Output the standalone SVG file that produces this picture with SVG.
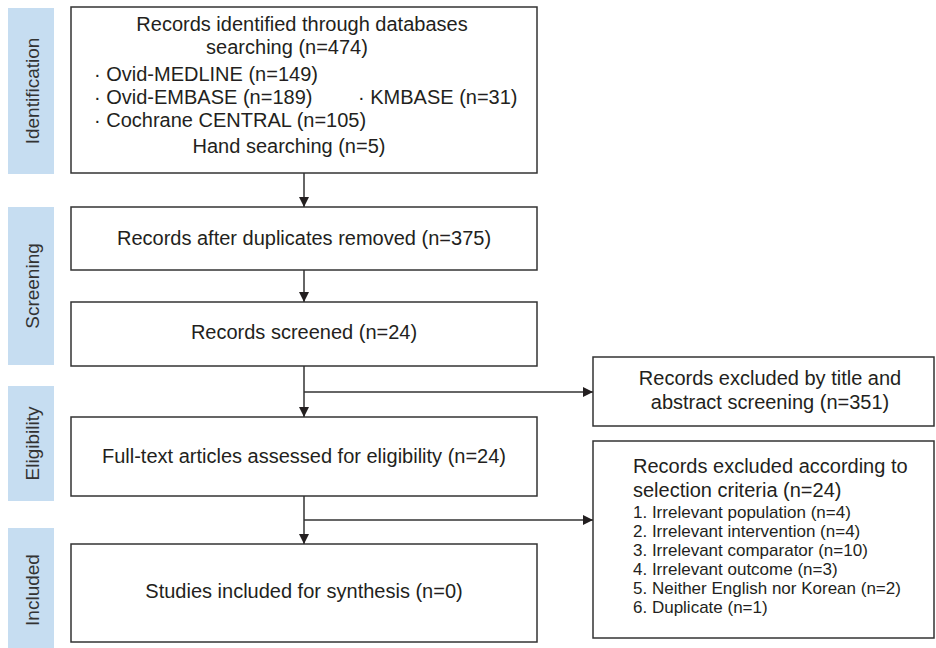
<svg xmlns="http://www.w3.org/2000/svg" width="936" height="648" viewBox="0 0 936 648">
<defs>
<style>
.bar{fill:#c6ddf1;stroke:none}
.box{fill:#fff;stroke:#333;stroke-width:1.5}
.lbl{font-family:"Liberation Sans",Arial,sans-serif;font-size:19px;fill:#333;text-anchor:middle}
.t{font-family:"Liberation Sans",Arial,sans-serif;font-size:20px;fill:#231f20}
.c{text-anchor:middle}
.s{font-size:17px}
.conn{fill:none;stroke:#333;stroke-width:1.5}
</style>
<marker id="ah" viewBox="0 0 10 10" refX="10" refY="5" markerWidth="10" markerHeight="10" markerUnits="userSpaceOnUse" orient="auto">
<path d="M0,0 L10,5 L0,10 z" fill="#231f20"/>
</marker>
</defs>
<rect width="936" height="648" fill="#fff"/>

<g id="stage-identification">
<rect class="bar" x="8" y="8" width="46" height="166"/>
<text class="lbl" transform="translate(39,91) rotate(-90)">Identification</text>
</g>
<g id="stage-screening">
<rect class="bar" x="8" y="207" width="46" height="158"/>
<text class="lbl" transform="translate(39,286) rotate(-90)">Screening</text>
</g>
<g id="stage-eligibility">
<rect class="bar" x="8" y="386" width="46" height="115"/>
<text class="lbl" transform="translate(39,443.5) rotate(-90)">Eligibility</text>
</g>
<g id="stage-included">
<rect class="bar" x="8" y="528" width="46" height="120"/>
<text class="lbl" transform="translate(39,590) rotate(-90)">Included</text>
</g>

<g id="identified">
<rect class="box" x="71" y="7" width="466" height="166"/>
<text class="t c" x="302" y="31">Records identified through databases</text>
<text class="t c" x="287" y="54">searching (n=474)</text>
<text class="t" x="94" y="81">· Ovid-MEDLINE (n=149)</text>
<text class="t" x="94" y="104">· Ovid-EMBASE (n=189)</text>
<text class="t" x="358" y="104">· KMBASE (n=31)</text>
<text class="t" x="94" y="127">· Cochrane CENTRAL (n=105)</text>
<text class="t c" x="289" y="153">Hand searching (n=5)</text>
</g>

<g id="deduplicated">
<rect class="box" x="71" y="207" width="466" height="63"/>
<text class="t c" x="304" y="245">Records after duplicates removed (n=375)</text>
</g>

<g id="screened">
<rect class="box" x="71" y="302" width="466" height="64"/>
<text class="t c" x="304" y="339">Records screened (n=24)</text>
</g>

<g id="fulltext">
<rect class="box" x="71" y="417" width="466" height="79"/>
<text class="t c" x="304" y="463">Full-text articles assessed for eligibility (n=24)</text>
</g>

<g id="included">
<rect class="box" x="71" y="544" width="466" height="98"/>
<text class="t c" x="304" y="598">Studies included for synthesis (n=0)</text>
</g>

<g id="excluded-title">
<rect class="box" x="593" y="357" width="341" height="69"/>
<text class="t c" x="770" y="385">Records excluded by title and</text>
<text class="t c" x="770" y="409">abstract screening (n=351)</text>
</g>

<g id="excluded-criteria">
<rect class="box" x="593" y="441" width="341" height="197"/>
<text class="t" x="633" y="473">Records excluded according to</text>
<text class="t" x="633" y="497">selection criteria (n=24)</text>
<text class="t s" x="633" y="518">1. Irrelevant population (n=4)</text>
<text class="t s" x="633" y="537">2. Irrelevant intervention (n=4)</text>
<text class="t s" x="633" y="556">3. Irrelevant comparator (n=10)</text>
<text class="t s" x="633" y="575">4. Irrelevant outcome (n=3)</text>
<text class="t s" x="633" y="594">5. Neither English nor Korean (n=2)</text>
<text class="t s" x="633" y="613">6. Duplicate (n=1)</text>
</g>

<g id="connectors">
<path class="conn" d="M304,173 V207" marker-end="url(#ah)"/>
<path class="conn" d="M304,270 V302" marker-end="url(#ah)"/>
<path class="conn" d="M304,366 V417" marker-end="url(#ah)"/>
<path class="conn" d="M304,392 H593" marker-end="url(#ah)"/>
<path class="conn" d="M304,496 V544" marker-end="url(#ah)"/>
<path class="conn" d="M304,520 H593" marker-end="url(#ah)"/>
</g>
</svg>
